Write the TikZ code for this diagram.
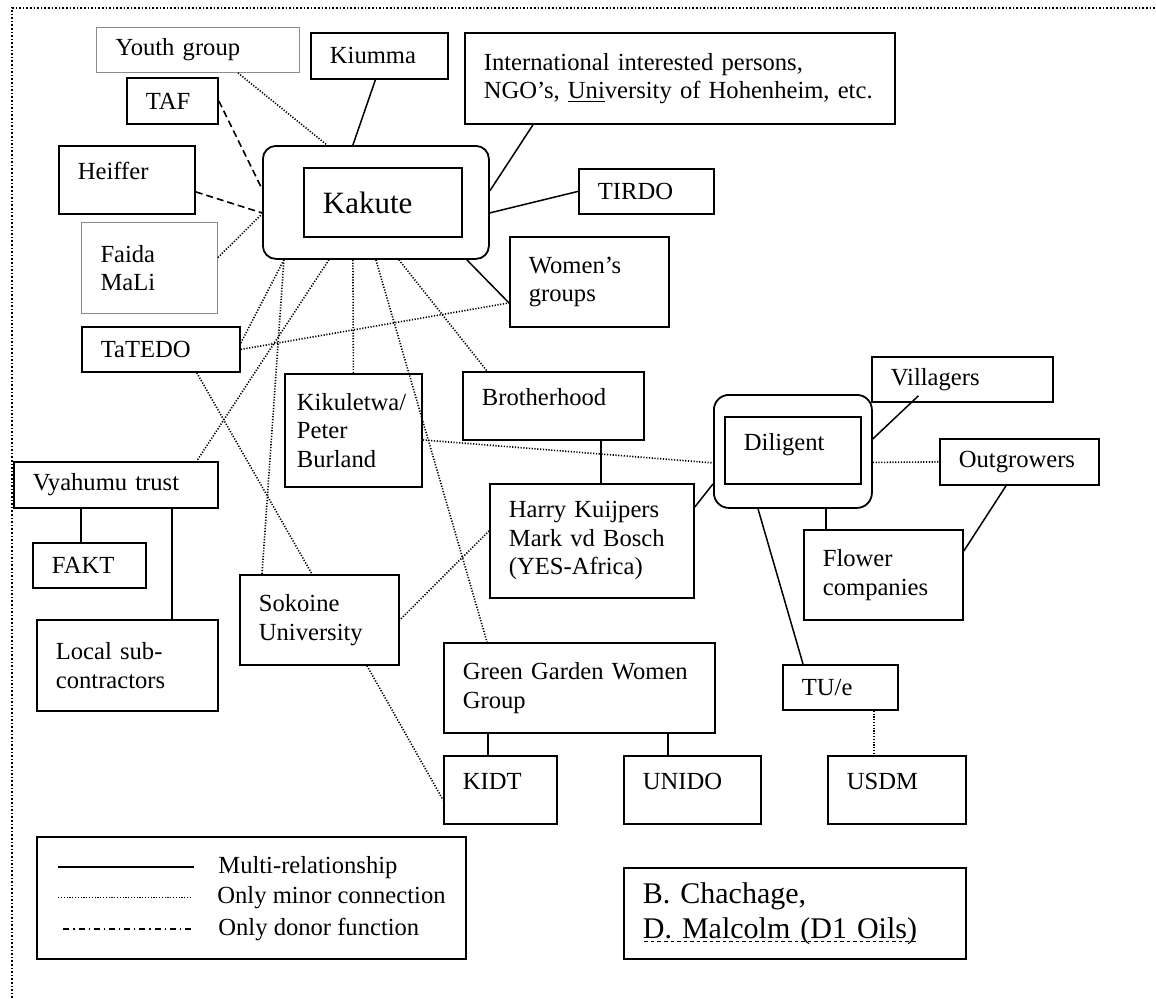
\documentclass[tikz,border=0pt]{standalone}
\usepackage{fontspec}
\setmainfont{Liberation Serif}
\usepackage{tikz}
\tikzstyle{box}     = [rectangle, draw=black, line width=0.9pt, anchor=north west, align=left, inner xsep=9.5pt, inner ysep=2pt]
\tikzstyle{faint}   = [box, draw=black!45, line width=0.5pt]
\tikzstyle{hub}     = [rectangle, draw=black, line width=0.9pt, anchor=north west, inner sep=0pt]
\tikzstyle{topline} = [text height=8pt, text depth=8pt]
\tikzstyle{multi}   = [line width=0.75pt]
\tikzstyle{minor}   = [line width=0.8pt, dash pattern=on 0.6pt off 0.8pt]
\tikzstyle{donor}   = [line width=0.8pt, dash pattern=on 3.5pt off 2pt]
\tikzstyle{frame}   = [line width=0.8pt, dash pattern=on 0.8pt off 1pt]
\tikzset{every node/.style={font=\fontsize{12.3}{14.25}\selectfont}}
\newsavebox{\ulbox}
\newcommand{\dashedul}[1]{\leavevmode\sbox\ulbox{#1}\rlap{\hbox to \wd\ulbox{\xleaders\hbox{\kern0.75pt\vrule width 1.75pt height -1.4pt depth 2pt\kern0.75pt}\hfill}}\usebox\ulbox}

\begin{document}
\begin{tikzpicture}[x=0.5pt, y=-0.5pt]
    \useasboundingbox (0,0) rectangle (1156,998);
    \draw [frame] (12,998) -- (12,8) -- (1156,8);

    % Kakute and its partners
    \node (kakO)    [hub, rounded corners=6.5pt, minimum width=113pt, minimum height=56.5pt] at (262,145) {};
    \node (kakute)  [box, text width=60pt, minimum height=34.5pt, font=\fontsize{15.5}{18}\selectfont] at (303,167) {Kakute};
    \node (youth)   [faint, text width=82.5pt, minimum height=22.5pt] at (96,27)  {Youth group};
    \node (taf)     [box, text width=26.5pt, minimum height=23pt]   at (126,77)  {TAF};
    \node (heiffer) [box, topline, text width=49pt, minimum height=34pt] at (58,145) {Heiffer};
    \node (faida)   [faint, text width=49pt, minimum height=45.5pt] at (81,222) {Faida\\MaLi};
    \node (kiumma)  [box, text width=49.5pt, minimum height=23pt]   at (310,32)  {Kiumma};
    \node (intl)    [box, text width=196pt, minimum height=45.5pt]  at (464,32)  {International interested persons,\\NGO’s, \underline{Uni}versity of Hohenheim, etc.};
    \node (tirdo)   [box, text width=48.5pt, minimum height=22.5pt] at (578,168) {TIRDO};
    \node (women)   [box, text width=60.5pt, minimum height=45pt]   at (509,236) {Women’s\\groups};
    \node (tatedo)  [box, text width=60pt, minimum height=22.5pt]   at (81,326)  {TaTEDO};
    \node (kikul)   [box, inner xsep=6pt, text width=56.5pt, minimum height=56.5pt] at (284,373) {Kikuletwa/\\Peter\\Burland};
    \node (brother) [box, topline, text width=71.5pt, minimum height=34pt] at (462,371) {Brotherhood};
    \node (vyahumu) [box, text width=83pt, minimum height=23pt]     at (13,461)  {Vyahumu trust};
    \node (fakt)    [box, text width=37.5pt, minimum height=22.5pt] at (32,542)  {FAKT};
    \node (local)   [box, text width=71.5pt, minimum height=45.5pt] at (36,619)  {Local sub-\\contractors};
    \node (sokoine) [box, text width=60.5pt, minimum height=45pt]   at (239,574) {Sokoine\\University};
    \node (harry)   [box, text width=83pt, minimum height=57pt]     at (489,483) {Harry Kuijpers\\Mark vd Bosch\\(YES-Africa)};
    \node (gg)      [box, text width=116.5pt, minimum height=45pt]  at (443,642) {Green Garden Women\\Group};
    \node (kidt)    [box, topline, text width=37.5pt, minimum height=34pt] at (443,755) {KIDT};
    \node (unido)   [box, topline, text width=49.5pt, minimum height=34pt] at (623,755) {UNIDO};

    % Diligent and its partners
    \node (dilO)      [hub, rounded corners=7.5pt, minimum width=79pt, minimum height=56.5pt] at (713,394) {};
    \node (diligent)  [box, topline, text width=49pt, minimum height=33.5pt] at (724,416) {Diligent};
    \node (villagers) [box, text width=71.5pt, minimum height=22.5pt] at (871,356) {Villagers};
    \node (outgrow)   [box, text width=60.5pt, minimum height=23pt]   at (939,438) {Outgrowers};
    \node (flower)    [box, text width=60.5pt, minimum height=45pt]   at (803,529) {Flower\\companies};
    \node (tue)       [box, text width=38.5pt, minimum height=22.5pt] at (782,664) {TU/e};
    \node (usdm)      [box, topline, text width=50pt, minimum height=34pt] at (827,755) {USDM};

    % legend and authors
    \node (legend) [box, minimum width=214.5pt, minimum height=61pt] at (36,836) {};
    \node (lg1) [anchor=base west, inner sep=0pt] at (218,873) {Multi-relationship};
    \node (lg2) [anchor=base west, inner sep=0pt] at (217,903) {Only minor connection};
    \node (lg3) [anchor=base west, inner sep=0pt] at (218,935) {Only donor function};
    \draw [multi] ([xshift=-12pt]lg1.west) -- ++(-68pt,0);
    \draw [minor, line width=0.5pt] ([xshift=-13pt]lg2.west) -- ++(-66.5pt,0);
    \draw [line width=0.7pt, dash pattern=on 3pt off 2pt on 0.6pt off 2pt] ([xshift=-13.5pt]lg3.west) -- ++(-65.5pt,0);
    \node (author) [box, text width=152pt, minimum height=45.5pt, font=\fontsize{15}{17.5}\selectfont] at (623,867) {B. Chachage,\\\dashedul{D. Malcolm (D1 Oils)}};

    % multi-relationships
    \draw [multi] ([xshift=-2pt]kiumma.south) -- ([xshift=-11.5pt]kakO.north);
    \draw [multi] ([xshift=34.5pt]intl.south west) -- ([yshift=5.75pt]kakO.east);
    \draw [multi] (tirdo.west) -- ([yshift=-5.25pt]kakO.east);
    \draw [multi] ([xshift=-11.5pt]kakO.south east) -- ([yshift=-10.5pt]women.west);
    \draw [multi] ([xshift=23.75pt]brother.south) -- ([xshift=4.5pt]harry.north);
    \draw [multi] ([yshift=-12pt]harry.north east) -- ([yshift=-16.25pt]dilO.west);
    \draw [multi] ([yshift=6.25pt]dilO.east) -- ([xshift=-22pt,yshift=3.5pt]villagers.south);
    \draw [multi] ([xshift=56.5pt]dilO.south west) -- ([xshift=11.5pt]flower.north west);
    \draw [multi] ([xshift=33.5pt]outgrow.south west) -- ([yshift=-11pt]flower.north east);
    \draw [multi] ([xshift=22.5pt]dilO.south west) -- ([xshift=10.5pt]tue.north west);
    \draw [multi] ([xshift=34pt]vyahumu.south west) -- ([xshift=24.5pt]fakt.north west);
    \draw [multi] ([xshift=79.5pt]vyahumu.south west) -- ([xshift=68pt]local.north west);
    \draw [multi] ([xshift=22.5pt]gg.south west) -- ([xshift=22.5pt]kidt.north west);
    \draw [multi] ([xshift=112.5pt]gg.south west) -- ([xshift=22.5pt]unido.north west);

    % donor functions
    \draw [donor] (taf.east) -- ([yshift=6.75pt]kakO.west);
    \draw [donor] ([yshift=-6pt]heiffer.east) -- ([yshift=-5.25pt]kakO.west);

    % minor connections
    \draw [minor] ([xshift=71pt]youth.south west) -- ([xshift=32.5pt]kakO.north west);
    \draw [minor] ([yshift=5.25pt]faida.east) -- ([yshift=-5.75pt]kakO.west);
    \draw [minor] ([xshift=-23.5pt]kakO.south) -- ([xshift=-11pt]vyahumu.north east);
    \draw [minor] ([xshift=-46pt]kakO.south) -- ([yshift=-8.5pt]tatedo.north east);
    \draw [minor] ([xshift=-46pt]kakO.south) -- ([xshift=11.5pt]sokoine.north west);
    \draw [minor] ([xshift=-11.5pt]kakO.south) -- (kikul.north);
    \draw [minor] (kakO.south) -- ([xshift=22pt]gg.north west);
    \draw [minor] ([xshift=11.5pt]kakO.south) -- ([xshift=12.5pt]brother.north west);
    \draw [minor] (tatedo.east) -- ([yshift=-10.5pt]women.west);
    \draw [minor] ([xshift=-22pt]tatedo.south east) -- ([xshift=36.5pt]sokoine.north west);
    \draw [minor] ([yshift=-4.75pt]kikul.east) -- ([yshift=-5.75pt]dilO.west);
    \draw [minor] ([yshift=5pt]harry.west) -- (sokoine.east);
    \draw [minor] ([xshift=64pt]sokoine.south west) -- ([yshift=-5pt]kidt.west);
    \draw [minor] ([yshift=-5.5pt]dilO.east) -- (outgrow.west);
    \draw [minor] ([xshift=46pt]tue.south west) -- ([xshift=23.5pt]usdm.north west);
\end{tikzpicture}
\end{document}
